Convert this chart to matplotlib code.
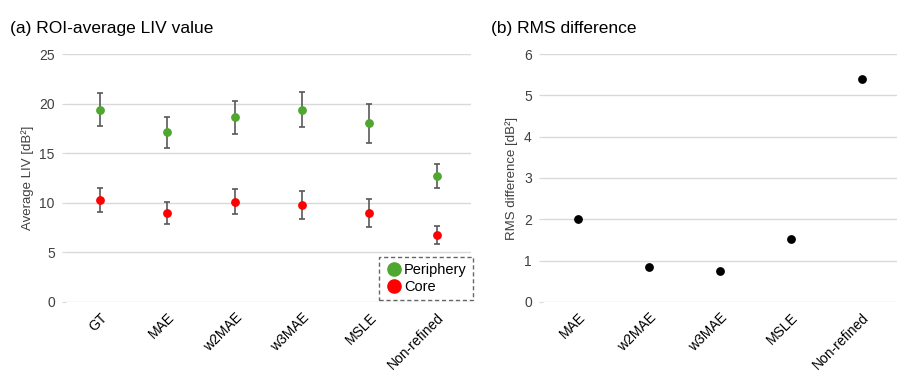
import matplotlib
matplotlib.use("Agg")
import matplotlib.pyplot as plt
import numpy as np
from matplotlib.lines import Line2D

plt.rcParams['font.family'] = ['Liberation Sans', 'DejaVu Sans']

methods_a = ["GT", "MAE", "w2MAE", "w3MAE", "MSLE", "Non-refined"]
periphery = [19.4, 17.1, 18.6, 19.4, 18.0, 12.7]
periphery_err = [1.7, 1.55, 1.7, 1.8, 2.0, 1.2]
core = [10.3, 8.95, 10.1, 9.75, 9.0, 6.75]
core_err = [1.2, 1.1, 1.25, 1.4, 1.4, 0.93]

methods_b = ["MAE", "w2MAE", "w3MAE", "MSLE", "Non-refined"]
rms = [2.0, 0.855, 0.76, 1.52, 5.39]

green = "#4EA72E"
red = "#FF0000"
grid_c = "#D9D9D9"
err_c = "#595959"
txt_c = "#404040"

fig = plt.figure(figsize=(9.15, 3.83), dpi=100)
ax1 = fig.add_axes([0.0721, 0.2115, 0.4423, 0.6475])
ax2 = fig.add_axes([0.5934, 0.2115, 0.3869, 0.6475])

def style(ax):
    for s in ax.spines.values():
        s.set_visible(False)
    ax.yaxis.grid(True, color=grid_c, linewidth=1)
    ax.set_axisbelow(True)
    ax.tick_params(axis='y', length=3, color=grid_c, labelsize=10, labelcolor=txt_c, pad=5)
    ax.tick_params(axis='x', length=0, labelsize=10, labelcolor="#000000", pad=6)

x1 = np.arange(len(methods_a))
ax1.errorbar(x1, periphery, yerr=periphery_err, fmt='o', color=green, ms=5.3,
             ecolor=err_c, elinewidth=1.2, capsize=2.5, capthick=1.2, label="Periphery", zorder=3)
ax1.errorbar(x1, core, yerr=core_err, fmt='o', color=red, ms=5.3,
             ecolor=err_c, elinewidth=1.2, capsize=2.5, capthick=1.2, label="Core", zorder=3)
ax1.set_xlim(-0.5, len(methods_a) - 0.5)
ax1.set_ylim(0, 25)
ax1.set_yticks([0, 5, 10, 15, 20, 25])
ax1.set_xticks(x1)
ax1.set_xticklabels(methods_a, rotation=45, ha='right', rotation_mode='anchor')
ax1.set_ylabel("Average LIV [dB²]", fontsize=9.5, labelpad=4, color=txt_c)
style(ax1)
hh = [Line2D([], [], marker='o', ls='', color=green, ms=9.5),
      Line2D([], [], marker='o', ls='', color=red, ms=9.5)]
leg = ax1.legend(hh, ["Periphery", "Core"], loc='lower right', bbox_to_anchor=(1.005, 0.01),
                 fontsize=10.5, frameon=True, fancybox=False, handletextpad=0.1,
                 handlelength=1.2, borderpad=0.4, labelspacing=0.2, borderaxespad=0)
leg.get_frame().set_edgecolor("#404040")
leg.get_frame().set_linestyle((0, (3, 2)))
leg.get_frame().set_linewidth(1)
for t in leg.get_texts():
    t.set_color("#000000")
fig.text(0.011, 0.925, "(a) ROI-average LIV value", fontsize=12.5, va='center')

x2 = np.arange(len(methods_b))
ax2.plot(x2, rms, 'o', color="#000000", ms=5.3, zorder=3)
ax2.set_xlim(-0.5, len(methods_b) - 0.5)
ax2.set_ylim(0, 6)
ax2.set_yticks([0, 1, 2, 3, 4, 5, 6])
ax2.set_xticks(x2)
ax2.set_xticklabels(methods_b, rotation=45, ha='right', rotation_mode='anchor')
ax2.set_ylabel("RMS difference [dB²]", fontsize=9.5, labelpad=4, color=txt_c)
style(ax2)
fig.text(0.537, 0.925, "(b) RMS difference", fontsize=12.5, va='center')

fig.savefig("out.png", dpi=100)
